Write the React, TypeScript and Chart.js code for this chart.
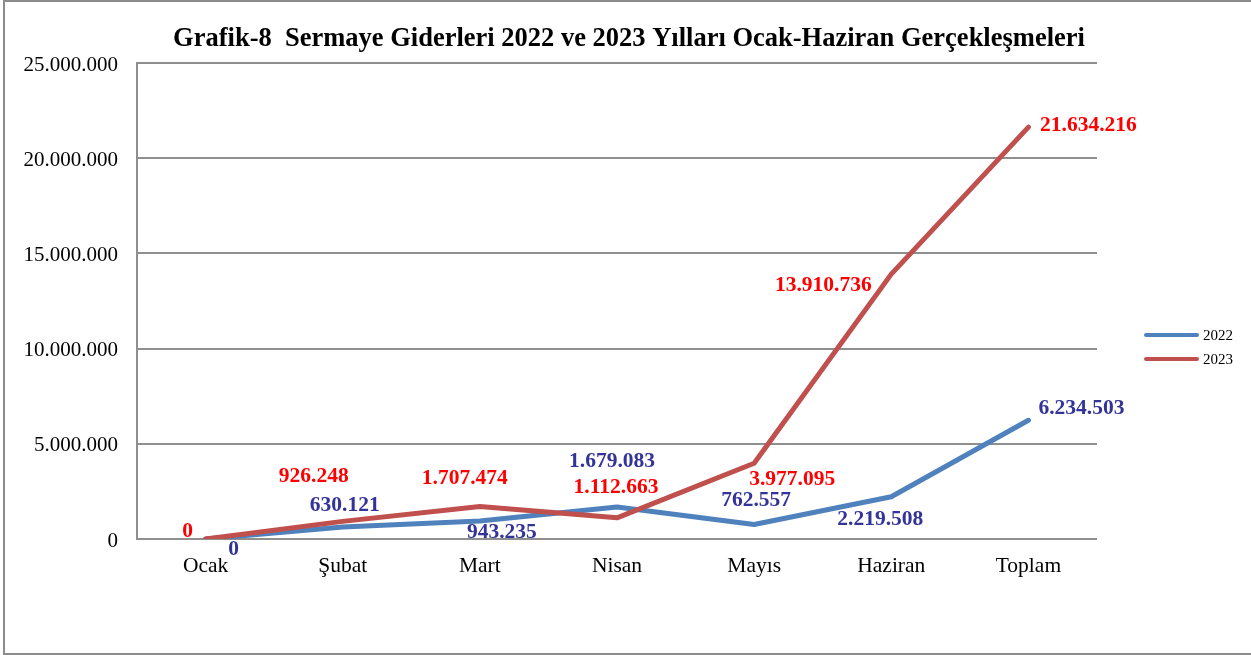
import React, { useEffect, useRef } from "react";
import { Chart, registerables } from "chart.js";

Chart.register(...registerables);

const TITLE = "Grafik-8  Sermaye Giderleri 2022 ve 2023 Yılları Ocak-Haziran Gerçekleşmeleri";
const CATEGORIES = ["Ocak", "Şubat", "Mart", "Nisan", "Mayıs", "Haziran", "Toplam"];
const SERIES_NAMES = ["2022", "2023"];
const VALUES_2022 = [0, 630121, 943235, 1679083, 762557, 2219508, 6234503];
const VALUES_2023 = [0, 926248, 1707474, 1112663, 3977095, 13910736, 21634216];
const Y_TICKS = [0, 5000000, 10000000, 15000000, 20000000, 25000000];

// label offsets (px) relative to each point — styling only
const LABEL_OFFSETS_2022 = [[28, 10], [2, -22], [22, 11], [-5, -46], [2, -24], [-11, 23], [53, -12]];
const LABEL_OFFSETS_2023 = [[-18, -8], [-29, -45], [-15, -28], [-1, -30], [38, 16], [-68, 11], [60, -2]];

const SERIF = "'Times New Roman', 'Liberation Serif', serif";
const BLUE = "#4F81BD";
const RED = "#C0504D";
const LABEL_BLUE = "#333399";
const LABEL_RED = "#FF0000";

const fmt = (v: number) => String(Math.round(v)).replace(/\B(?=(\d{3})+(?!\d))/g, ".");

const decorPlugin = {
  id: "decor",
  afterDatasetsDraw(chart: any) {
    const ctx = chart.ctx;
    ctx.save();
    const sets = [
      { idx: 0, offs: LABEL_OFFSETS_2022, color: LABEL_BLUE },
      { idx: 1, offs: LABEL_OFFSETS_2023, color: LABEL_RED },
    ];
    ctx.font = `bold 21.5px ${SERIF}`;
    ctx.textAlign = "center";
    ctx.textBaseline = "middle";
    sets.forEach((s) => {
      const meta = chart.getDatasetMeta(s.idx);
      const data = chart.data.datasets[s.idx].data as number[];
      meta.data.forEach((pt: any, i: number) => {
        ctx.fillStyle = s.color;
        ctx.fillText(fmt(data[i]), pt.x + s.offs[i][0], pt.y + s.offs[i][1]);
      });
    });
    ctx.restore();
  },
  afterDraw(chart: any) {
    const ctx = chart.ctx;
    ctx.save();
    ctx.font = `bold 26.5px ${SERIF}`;
    ctx.fillStyle = "#000";
    ctx.textAlign = "center";
    ctx.textBaseline = "middle";
    ctx.fillText(TITLE, 629, 39);
    const colors = [BLUE, RED];
    ctx.font = `15px ${SERIF}`;
    ctx.textAlign = "left";
    SERIES_NAMES.forEach((name, i) => {
      const y = 335 + i * 24;
      ctx.strokeStyle = colors[i];
      ctx.lineWidth = 4;
      ctx.lineCap = "round";
      ctx.beginPath();
      ctx.moveTo(1146, y);
      ctx.lineTo(1197, y);
      ctx.stroke();
      ctx.fillStyle = "#000";
      ctx.fillText(name, 1203, y + 1);
    });
    ctx.restore();
  },
};

export default function App() {
  const ref = useRef<HTMLCanvasElement>(null);
  useEffect(() => {
    if (!ref.current) return;
    const chart = new Chart(ref.current, {
      type: "line",
      data: {
        labels: CATEGORIES,
        datasets: [
          {
            label: SERIES_NAMES[0],
            data: VALUES_2022,
            borderColor: BLUE,
            backgroundColor: BLUE,
            borderWidth: 5,
            pointRadius: 0,
            tension: 0,
            borderCapStyle: "round",
            borderJoinStyle: "round",
            order: 1,
          },
          {
            label: SERIES_NAMES[1],
            data: VALUES_2023,
            borderColor: RED,
            backgroundColor: RED,
            borderWidth: 5,
            pointRadius: 0,
            tension: 0,
            borderCapStyle: "round",
            borderJoinStyle: "round",
            order: 0,
          },
        ],
      },
      options: {
        animation: false,
        responsive: true,
        maintainAspectRatio: false,
        layout: { padding: { left: 0, right: 154, top: 63, bottom: 76 } },
        plugins: {
          legend: { display: false },
          title: { display: false },
          tooltip: { enabled: false },
        },
        scales: {
          x: {
            offset: true,
            grid: { display: false, drawTicks: false },
            border: { display: false },
            ticks: { font: { family: SERIF, size: 21.5 }, color: "#000", padding: 14, maxRotation: 0 },
            afterFit: (s: any) => { s.height = 40; },
          },
          y: {
            min: 0,
            max: 25000000,
            afterBuildTicks: (s: any) => { s.ticks = Y_TICKS.map((v) => ({ value: v })); },
            grid: { color: "#8f8f8f", lineWidth: 2, drawTicks: false },
            border: { display: true, color: "#8f8f8f", width: 2 },
            ticks: {
              font: { family: SERIF, size: 21 },
              color: "#000",
              padding: 19,
              labelOffset: 2,
              callback: (v: any) => fmt(Number(v)),
            },
            afterFit: (s: any) => { s.width = 137; },
          },
        },
      },
      plugins: [decorPlugin],
    });
    return () => chart.destroy();
  }, []);

  return (
    <div style={{ position: "absolute", left: 0, top: 0, width: 1251, height: 655, overflow: "hidden", background: "#fff" }}>
      <div style={{ position: "absolute", left: 3, top: 0, width: 1270, height: 655, border: "2px solid #8c8c8c", boxSizing: "border-box" }} />
      <div style={{ position: "absolute", left: 0, top: 0, width: 1251, height: 655 }}>
        <canvas ref={ref} />
      </div>
    </div>
  );
}
